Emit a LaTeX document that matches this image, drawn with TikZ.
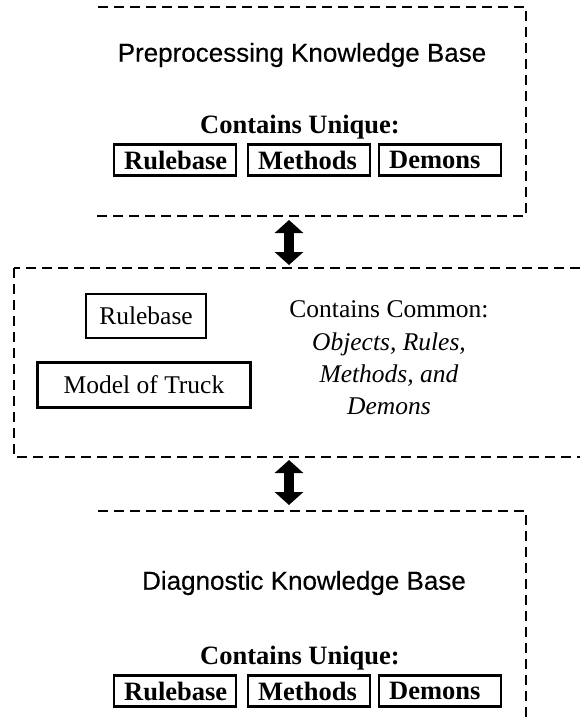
\documentclass[tikz,border=0pt]{standalone}
\usepackage{fontspec}
\setmainfont{Liberation Serif}
\newfontfamily\hvfont[FakeBold=0.3]{Liberation Sans}
\usetikzlibrary{arrows.meta}
\begin{document}
\begin{tikzpicture}[x=1pt,y=-1pt,
  frame/.style={draw, line width=2.4pt, dash pattern=on 10pt off 6pt},
  kbtitle/.style={font=\hvfont\fontsize{26}{30}\selectfont, inner sep=0pt},
  uhead/.style={font=\bfseries\fontsize{26.5}{30}\selectfont, inner sep=0pt},
  ubox/.style={draw, line width=2.4pt, font=\bfseries\fontsize{26.5}{30}\selectfont,
    text width=102pt, inner xsep=10pt, inner ysep=0pt, minimum height=31pt,
    anchor=west, align=left},
  cbox/.style={draw, line width=2.4pt, font=\fontsize{25.5}{30}\selectfont,
    inner ysep=0pt, minimum height=44pt},
  bigarrow/.style={line width=10pt,
    {Triangle[width=28pt,length=13pt]}-{Triangle[width=28pt,length=13pt]}}
]
\useasboundingbox (0,0) rectangle (580,717);
\clip (0,0) rectangle (580,717);

% frame corners
\coordinate (tkTL) at (98,7);   \coordinate (tkTR) at (526,7);
\coordinate (tkBR) at (526,216); \coordinate (tkBL) at (95,216);
\coordinate (mdTL) at (14,268);  \coordinate (mdBR) at (604,457);
\coordinate (bkTL) at (98,511);  \coordinate (bkTR) at (526,511);
\coordinate (bkBR) at (526,730);

% dashed frames (the outer two are open on the left)
\draw[frame] (tkTL) -- (tkTR) -- (tkBR) -- (tkBL);
\draw[frame] (mdTL) rectangle (mdBR);
\draw[frame] (bkTL) -- (bkTR) -- (bkBR);

% arrows
\coordinate (ax) at (289,0);
\draw[bigarrow, shorten <=4pt, shorten >=3pt] (tkBR -| ax) -- (mdTL -| ax);
\draw[bigarrow, shorten <=3pt, shorten >=6pt] (mdBR -| ax) -- (bkTL -| ax);

% top knowledge base
\node[kbtitle] (t1) at (302,55) {Preprocessing Knowledge Base};
\node[uhead] (u1) at (300,127) {Contains Unique:};
\node[ubox] (r1) at (113,160) {Rulebase};
\node[ubox] (m1) at (247,160) {Methods};
\node[ubox] (d1) at (378,160) {Demons};

% middle
\node[cbox, minimum width=120pt] (mr) at (146,316) {Rulebase};
\node[cbox, minimum width=213pt, minimum height=45pt] (mt) at (144,385) {Model of Truck};
\node[align=center, font=\fontsize{25.5}{32.3}\selectfont, inner sep=0pt] (cc) at (389,358)
  {Contains Common:\\ \textit{Objects, Rules,}\\ \textit{Methods, and}\\ \textit{Demons}};

% bottom knowledge base
\node[kbtitle] (t2) at (304,583) {Diagnostic Knowledge Base};
\node[uhead] (u2) at (300,658) {Contains Unique:};
\node[ubox] (r2) at (113,691) {Rulebase};
\node[ubox] (m2) at (247,691) {Methods};
\node[ubox] (d2) at (378,691) {Demons};
\end{tikzpicture}
\end{document}
